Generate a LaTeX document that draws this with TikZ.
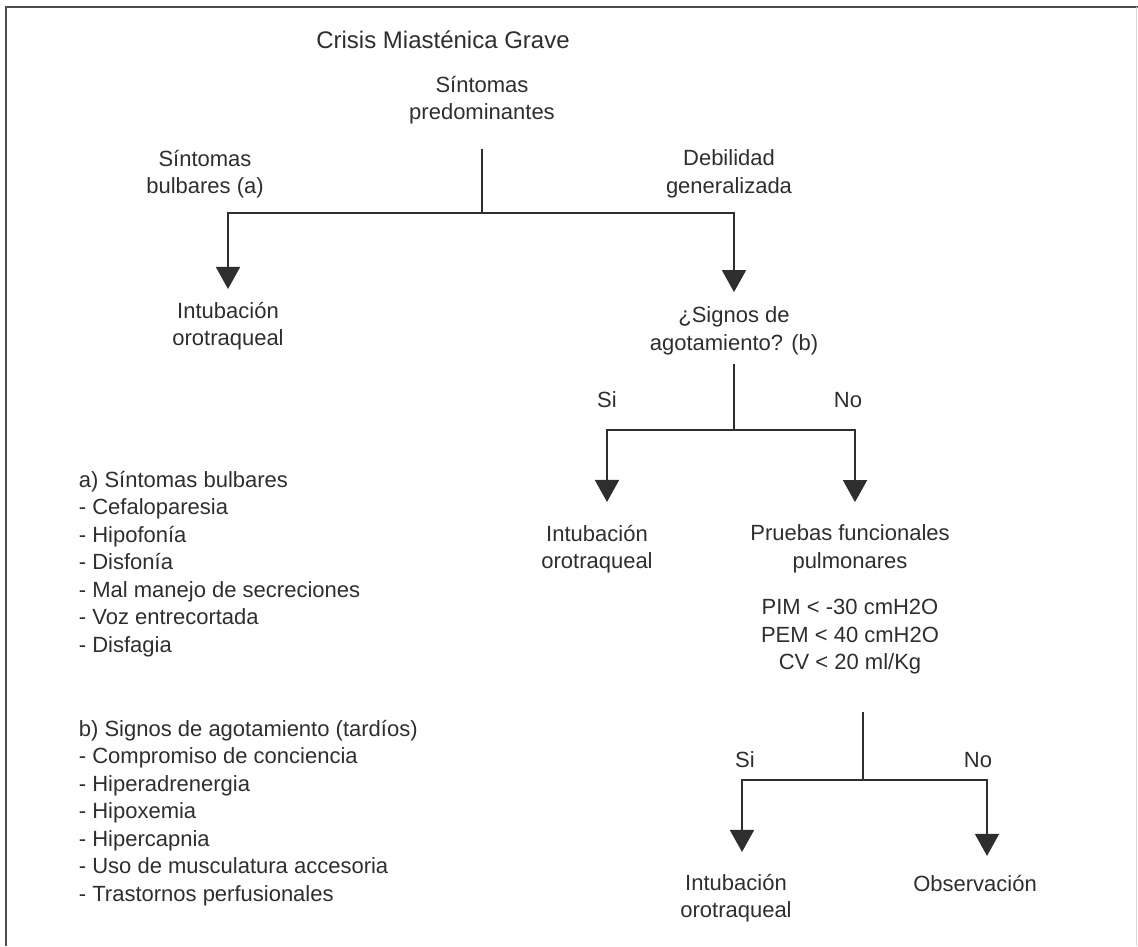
\documentclass[tikz,border=0pt]{standalone}
\usepackage{fontspec}
\setmainfont{Liberation Sans}
\usetikzlibrary{arrows.meta}
\definecolor{ink}{HTML}{2E2E2E}
\def\fs{\fontsize{22}{27.5}\selectfont}
\def\tfs{\fontsize{24}{29}\selectfont}

\begin{document}
\begin{tikzpicture}[x=1pt,y=-1pt,>={Triangle[width=24pt,length=22pt]},line width=1.8pt,draw=ink,
  txt/.style={align=center,font=\fs,text=ink,inner sep=0pt},
  lst/.style={align=left,font=\fs,text=ink,inner sep=0pt,anchor=north west}]
\useasboundingbox (0,0) rectangle (1138,946);
% marco
\draw[line width=2.6pt,draw=black!70] (6,946) -- (6,7) -- (1138,7);
\draw[line width=1pt,draw=black!15] (1136.5,7) -- (1136.5,946);
% nodos
\node[txt,font=\tfs] (titulo) at (443,40) {Crisis Miasténica Grave};
\node[txt] (sp) at (482,100) {Síntomas\\predominantes};
\node[txt] (sb) at (205,174) {Síntomas\\bulbares (a)};
\node[txt] (dg) at (729,174) {Debilidad\\generalizada};
\node[txt] (ioA) at (228,326) {Intubación\\orotraqueal};
\node[txt] (sa) at (734,331) {¿Signos de\\agotamiento? (b)};
\node[txt] (si1) at (607,400) {Si};
\node[txt] (no1) at (848,400) {No};
\node[txt] (ioB) at (597,549) {Intubación\\orotraqueal};
\node[txt] (pf) at (850,549) {Pruebas funcionales\\pulmonares};
\node[txt] (val) at (850,637) {PIM < -30 cmH2O\\PEM < 40 cmH2O\\CV < 20 ml/Kg};
\node[txt] (si2) at (745,760) {Si};
\node[txt] (no2) at (978,760) {No};
\node[txt] (ioC) at (736,898) {Intubación\\orotraqueal};
\node[txt] (obs) at (975,883) {Observación};
% leyenda
\node[lst] (leyA) at (78,470) {a) Síntomas bulbares\\- Cefaloparesia\\- Hipofonía\\- Disfonía\\- Mal manejo de secreciones\\- Voz entrecortada\\- Disfagia};
\node[lst] (leyB) at (78,719) {b) Signos de agotamiento (tardíos)\\- Compromiso de conciencia\\- Hiperadrenergia\\- Hipoxemia\\- Hipercapnia\\- Uso de musculatura accesoria\\- Trastornos perfusionales};
% uniones
\coordinate (j1) at (482,213);
\coordinate (j2) at (734,430);
\coordinate (j3) at (863,780);
\draw[shorten <=24pt] (sp) -- (j1);
\draw[->,shorten >=12pt] (j1) -| (ioA);
\draw[->,shorten >=14pt] (j1) -| (sa);
\draw[shorten <=8pt] (sa) -- (j2);
\draw[->,shorten >=22pt] (j2) -| ([xshift=10pt]ioB.north);
\draw[->,shorten >=22pt] (j2) -| ([xshift=5pt]pf.north);
\draw[shorten <=37pt] (val.south -| j3) -- (j3);
\draw[->,shorten >=21pt] (j3) -| ([xshift=6pt]ioC.north);
\draw[->,shorten >=18pt] (j3) -| ([xshift=12pt]obs.north);
\end{tikzpicture}
\end{document}
